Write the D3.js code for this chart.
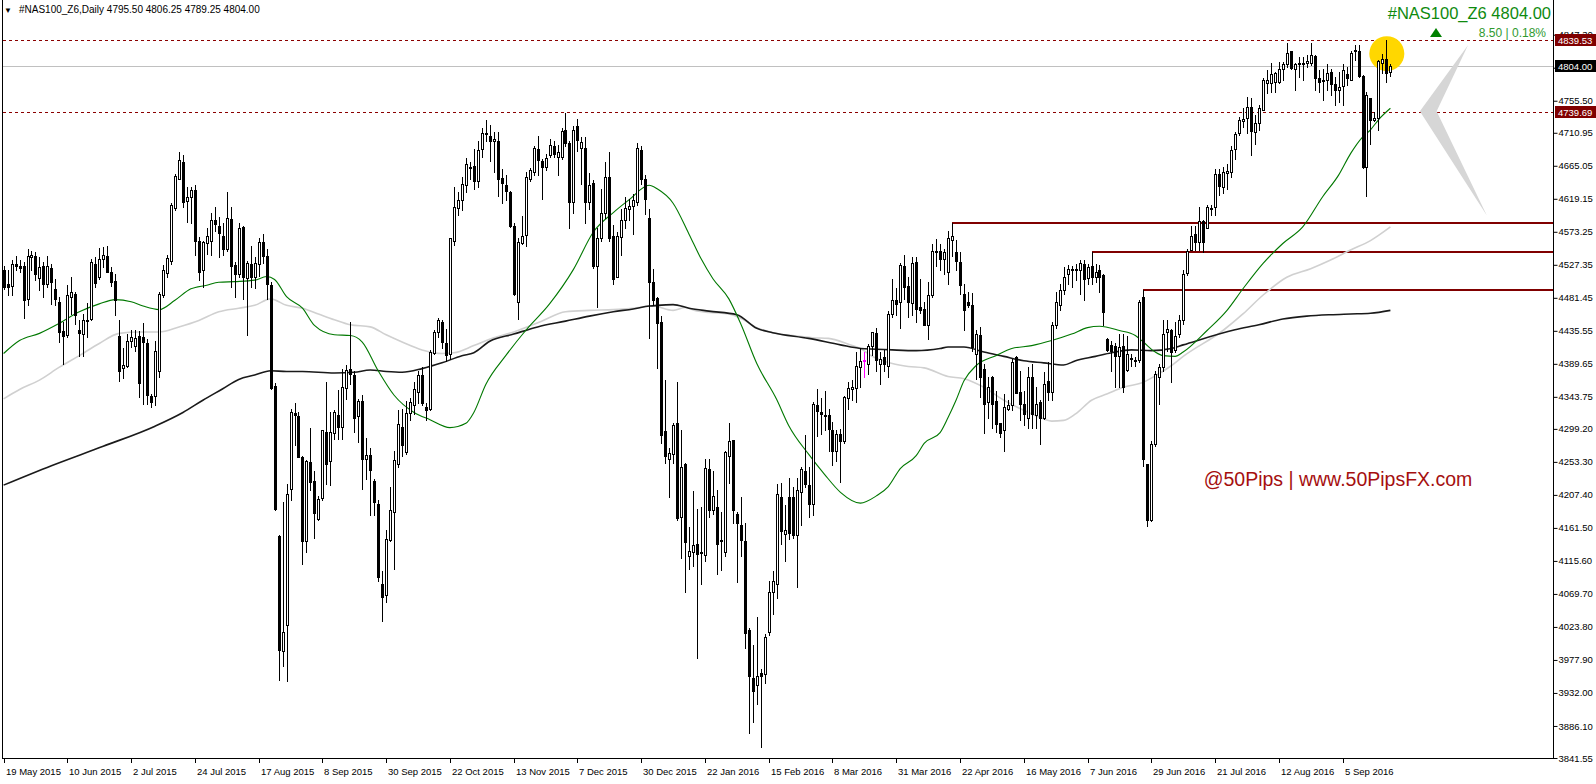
<!DOCTYPE html>
<html>
<head>
<meta charset="utf-8">
<script src="https://cdn.jsdelivr.net/npm/d3@7"></script>
<style>
body { margin: 0; background: #fff; }
svg text { font-family: "Liberation Sans", Arial, sans-serif; }
</style>
</head>
<body>
<div id="chart"></div>
<script>
// daily candles, bar 0 = 19 May 2015
var opens = [
 4520,4500,4498,4529,4526,4525,4480,4538,4540,4509, 4525,4500,4523,4494,4476,4435,4430,4482,4487,4436,
 4431,4451,4452,4529,4510,4535,4540,4517,4505,4428, 4384,4386,4421,4414,4428,4427,4419,4345,4345,4379,
 4485,4516,4533,4606,4647,4670,4616,4621,4632,4560, 4520,4557,4561,4589,4582,4568,4550,4591,4527,4515,
 4580,4509,4528,4511,4529,4559,4539,4499,4359,4150, 3990,4026,4215,4321,4317,4260,4143,4253,4227,4174,
 4203,4295,4254,4293,4319,4302,4356,4382,4374,4317, 4338,4258,4263,4227,4195,4084,4068,4145,4183,4251,
 4302,4267,4321,4333,4351,4374,4329,4327,4405,4434, 4448,4418,4404,4560,4607,4618,4639,4664,4665,4644,
 4688,4711,4707,4700,4699,4648,4639,4629,4581,4476, 4558,4569,4646,4656,4688,4672,4664,4680,4693,4677,
 4677,4715,4697,4615,4720,4690,4690,4614,4641,4526, 4564,4600,4649,4568,4511,4566,4589,4605,4609,4615,
 4687,4647,4592,4504,4481,4448,4296,4258,4264,4307, 4177,4250,4122,4128,4139,4128,4124,4244,4186,4191,
 4145,4128,4262,4284,4181,4165,4143,4019,3953,3943, 3960,3959,4017,4072,4084,4205,4153,4204,4204,4152,
 4211,4240,4221,4195,4332,4323,4319,4318,4297,4269, 4292,4282,4342,4354,4356,4385,4394,4390,4414,4432,
 4390,4399,4387,4459,4478,4476,4525,4498,4474,4531, 4468,4466,4444,4485,4546,4546,4535,4517,4562,4545,
 4531,4487,4476,4471,4404,4430,4383,4336,4371,4338, 4307,4297,4327,4332,4399,4350,4334,4315,4371,4318,
 4336,4315,4366,4350,4443,4471,4492,4514,4521,4520, 4520,4529,4509,4525,4510,4520,4513,4424,4416,4415,
 4400,4414,4381,4396,4395,4395,4482,4250,4172,4278, 4371,4385,4434,4436,4409,4431,4450,4516,4548,4570,
 4559,4588,4579,4606,4608,4654,4636,4655,4657,4689, 4710,4728,4731,4747,4712,4724,4743,4780,4780,4781,
 4781,4799,4806,4824,4800,4808,4808,4808,4808,4818, 4787,4783,4784,4796,4779,4771,4776,4793,4785,4826,
 4825,4790,4663,4759,4729,4732,4808,4814,4795.5
];
var highs = [
 4525,4520,4534,4539,4534,4531,4550,4547,4545,4538, 4531,4539,4529,4507,4482,4448,4499,4510,4490,4450,
 4459,4474,4536,4538,4551,4552,4553,4524,4515,4450, 4411,4431,4436,4436,4435,4446,4424,4348,4422,4489,
 4527,4541,4613,4654,4684,4680,4636,4636,4638,4566, 4561,4578,4599,4608,4594,4585,4629,4608,4531,4585,
 4582,4533,4554,4538,4565,4570,4549,4504,4363,4151, 4198,4223,4327,4335,4322,4261,4256,4300,4240,4206,
 4298,4365,4322,4325,4353,4383,4388,4448,4380,4341, 4346,4287,4272,4230,4201,4102,4158,4219,4268,4325,
 4327,4338,4342,4365,4380,4385,4335,4409,4436,4454, 4451,4438,4565,4636,4628,4649,4676,4670,4689,4700,
 4717,4729,4722,4712,4712,4660,4652,4630,4585,4565, 4595,4656,4662,4692,4706,4675,4681,4702,4700,4694,
 4717,4739,4700,4720,4730,4705,4705,4655,4645,4578, 4633,4670,4684,4583,4573,4605,4622,4619,4626,4697,
 4692,4652,4605,4522,4483,4456,4367,4272,4308,4364, 4298,4252,4163,4213,4188,4190,4257,4257,4241,4214,
 4184,4269,4307,4284,4184,4204,4169,4023,3999,4037, 3965,4014,4088,4101,4223,4224,4194,4231,4219,4231,
 4246,4290,4246,4337,4355,4342,4352,4327,4309,4297, 4299,4345,4365,4367,4406,4411,4406,4417,4434,4439,
 4406,4409,4463,4508,4495,4530,4541,4510,4538,4538, 4508,4475,4503,4556,4563,4556,4550,4575,4585,4562,
 4545,4501,4489,4488,4436,4441,4390,4371,4373,4352, 4308,4348,4339,4397,4401,4380,4352,4385,4390,4357,
 4339,4378,4392,4448,4489,4501,4524,4527,4525,4529, 4534,4534,4529,4545,4529,4527,4515,4426,4422,4418,
 4431,4431,4429,4404,4399,4478,4493,4250,4283,4380, 4390,4450,4450,4438,4448,4457,4520,4550,4581,4582,
 4608,4589,4610,4610,4661,4661,4664,4668,4692,4712, 4733,4745,4761,4759,4736,4749,4787,4798,4808,4796,
 4810,4810,4836,4825,4808,4816,4817,4819,4836,4819, 4798,4799,4807,4799,4789,4796,4807,4803,4825,4833,
 4833,4791,4768,4759,4740,4812,4820,4839.53,4806.25
];
var lows = [
 4494,4485,4485,4520,4517,4454,4472,4520,4506,4492, 4482,4496,4473,4471,4420,4389,4427,4459,4445,4401,
 4400,4427,4450,4496,4508,4524,4517,4498,4458,4366, 4370,4385,4413,4408,4343,4334,4334,4329,4332,4372,
 4482,4510,4529,4603,4646,4608,4587,4585,4541,4506, 4496,4543,4541,4575,4538,4541,4547,4497,4482,4510,
 4480,4430,4496,4495,4512,4530,4480,4355,4186,3950, 3970,3949,4201,4277,4260,4111,4128,4214,4148,4172,
 4201,4222,4221,4285,4285,4285,4341,4362,4295,4281, 4215,4230,4180,4180,4087,4032,4058,4143,4105,4246,
 4261,4264,4312,4320,4335,4333,4311,4325,4404,4427, 4412,4393,4397,4555,4596,4603,4628,4646,4633,4635,
 4677,4700,4672,4657,4623,4613,4618,4580,4485,4452, 4556,4554,4644,4652,4652,4619,4659,4677,4677,4652,
 4675,4692,4578,4600,4685,4640,4585,4605,4523,4468, 4561,4593,4560,4501,4511,4541,4578,4589,4570,4610,
 4640,4598,4426,4471,4384,4280,4252,4205,4252,4173, 4120,4072,4105,4108,3981,4083,4115,4176,4181,4098,
 4103,4123,4224,4169,4086,4123,3995,3877,3891,3916, 3857,3946,4013,4042,4064,4139,4116,4146,4148,4079,
 4166,4218,4176,4180,4289,4292,4297,4269,4249,4254, 4226,4279,4327,4339,4337,4357,4372,4375,4402,4380,
 4362,4380,4371,4455,4458,4439,4480,4455,4458,4448, 4460,4443,4424,4483,4525,4520,4515,4501,4540,4520,
 4487,4436,4469,4408,4369,4343,4294,4315,4301,4295, 4288,4269,4325,4325,4349,4311,4304,4301,4301,4301,
 4278,4313,4339,4339,4440,4464,4487,4501,4496,4506, 4487,4479,4501,4501,4503,4489,4443,4408,4380,4357,
 4357,4350,4380,4387,4387,4392,4248,4164,4171,4276, 4334,4380,4408,4364,4406,4427,4445,4513,4548,4548,
 4548,4545,4578,4596,4596,4624,4627,4633,4650,4675, 4708,4719,4710,4680,4696,4715,4742,4766,4768,4768,
 4780,4784,4803,4799,4770,4789,4784,4802,4805,4770, 4768,4756,4771,4763,4749,4754,4749,4777,4784,4812,
 4789,4662,4623,4696,4728,4715,4794,4782,4789.25
];
var closes = [
 4497,4497,4528,4525,4523,4479,4539,4541,4515,4524, 4501,4526,4503,4480,4434,4429,4486,4490,4457,4432,
 4450,4449,4531,4502,4536,4541,4518,4504,4479,4379, 4388,4422,4427,4426,4363,4420,4347,4336,4407,4487,
 4520,4537,4610,4651,4673,4615,4622,4632,4560,4518, 4559,4568,4590,4584,4571,4550,4593,4526,4514,4578,
 4511,4530,4511,4530,4559,4540,4500,4356,4188,3992, 4017,4208,4323,4318,4260,4143,4255,4225,4182,4202,
 4297,4251,4295,4323,4302,4358,4381,4375,4314,4338, 4258,4263,4242,4198,4093,4065,4146,4186,4256,4306,
 4277,4321,4337,4354,4374,4335,4326,4406,4434,4450, 4420,4402,4564,4608,4617,4640,4667,4663,4644,4687,
 4711,4710,4699,4702,4646,4641,4630,4581,4487,4559, 4568,4650,4659,4690,4673,4664,4676,4694,4682,4684,
 4714,4697,4615,4715,4701,4698,4614,4639,4526,4564, 4600,4649,4564,4508,4568,4589,4606,4609,4618,4690,
 4646,4619,4503,4478,4446,4291,4261,4266,4304,4175, 4246,4142,4130,4138,4125,4127,4245,4186,4206,4139,
 4144,4267,4282,4186,4169,4144,4015,3956,3935,3956, 3955,4010,4073,4087,4208,4157,4158,4155,4151,4214,
 4243,4223,4195,4334,4324,4320,4317,4299,4269,4292, 4282,4344,4356,4358,4386,4394,4395,4414,4434,4395,
 4397,4390,4459,4479,4473,4527,4496,4475,4530,4466, 4465,4444,4486,4547,4546,4535,4545,4565,4568,4533,
 4499,4464,4472,4413,4431,4371,4334,4357,4334,4306, 4293,4330,4333,4392,4349,4334,4320,4371,4320,4334,
 4315,4361,4350,4444,4475,4492,4510,4521,4521,4522, 4530,4508,4524,4510,4517,4511,4462,4409,4408,4400,
 4413,4358,4404,4398,4394,4476,4258,4172,4278,4376, 4385,4431,4438,4406,4429,4450,4515,4547,4568,4559,
 4588,4559,4608,4606,4654,4637,4657,4658,4687,4709, 4729,4730,4747,4714,4725,4745,4784,4785,4793,4794,
 4800,4806,4822,4801,4806,4807,4807,4811,4819,4787, 4782,4784,4794,4779,4771,4775,4798,4787,4822,4824,
 4790,4663,4763,4729,4732,4811,4814,4794,4804
];
var highlightBars = [216];

// moving averages: [bar, value]
var maGreen = [[0,4404],[4,4422],[9,4432],[14,4446],[19,4462],[24,4473],[28,4479],[32,4476],[35,4470],[39,4465],
 [43,4478],[47,4494],[51,4499],[54,4503],[58,4504],[63,4506],[66,4511],[68,4507],[71,4483],[75,4467],[78,4443],
 [83,4430],[87,4429],[90,4420],[94,4380],[98,4346],[103,4322],[107,4312],[112,4301],[116,4307],[118,4322],
 [121,4361],[126,4401],[131,4436],[137,4473],[143,4521],[148,4573],[153,4600],[157,4618],[162,4638],[164,4633],
 [168,4613],[172,4570],[175,4536],[178,4508],[182,4480],[185,4445],[189,4390],[194,4340],[197,4304],[202,4264],
 [206,4236],[210,4211],[215,4196],[219,4206],[222,4219],[225,4244],[229,4262],[231,4279],[235,4294],[237,4315],
 [239,4339],[241,4366],[244,4387],[249,4401],[253,4411],[258,4415],[263,4422],[268,4431],[272,4440],[275,4442],
 [280,4436],[284,4429],[286,4420],[289,4406],[291,4401],[294,4400],[296,4406],[302,4436],[307,4464],[311,4494],
 [316,4529],[321,4557],[326,4580],[331,4622],[335,4652],[338,4682],[341,4705],[343,4715],[345,4729],[348,4745]];
var maGrey = [[0,4341],[4,4354],[9,4367],[14,4385],[19,4401],[24,4418],[29,4432],[34,4434],[39,4434],[44,4441],
 [49,4450],[54,4462],[59,4467],[63,4471],[67,4480],[71,4471],[75,4467],[79,4459],[83,4451],[87,4444],[92,4441],
 [96,4430],[100,4420],[105,4409],[110,4404],[113,4405],[118,4415],[123,4426],[128,4434],[135,4449],[141,4462],
 [147,4464],[153,4465],[158,4467],[163,4470],[168,4464],[171,4468],[174,4463],[177,4461],[182,4459],[185,4453],
 [189,4440],[193,4433],[198,4429],[203,4426],[207,4425],[212,4417],[215,4411],[218,4400],[223,4390],[227,4386],
 [231,4384],[237,4372],[241,4369],[246,4357],[251,4339],[256,4325],[261,4313],[263,4310],[266,4311],[269,4320],
 [273,4339],[277,4348],[281,4357],[286,4364],[289,4373],[293,4387],[296,4400],[306,4436],[311,4459],[316,4485],
 [322,4510],[328,4522],[333,4534],[338,4548],[343,4561],[348,4580]];
var maDark = [[0,4221],[12,4248],[25,4275],[38,4303],[45,4322],[50,4339],[55,4355],[59,4368],[63,4374],[67,4380],
 [71,4379],[75,4379],[83,4377],[88,4378],[92,4381],[96,4379],[100,4378],[105,4383],[110,4391],[115,4401],
 [118,4405],[122,4421],[128,4431],[134,4441],[141,4449],[147,4456],[153,4462],[158,4466],[162,4470],[164,4471],
 [168,4472],[172,4467],[177,4463],[184,4458],[189,4439],[193,4433],[202,4425],[210,4416],[215,4411],[219,4410],
 [223,4409],[229,4408],[235,4411],[237,4413],[241,4413],[246,4406],[251,4400],[256,4394],[261,4391],[266,4388],
 [269,4394],[274,4400],[278,4405],[283,4409],[288,4408],[293,4411],[296,4416],[309,4437],[315,4444],[321,4452],
 [327,4456],[333,4458],[338,4459],[343,4460],[348,4464]];

// drawn levels
var levelBars = [238, 273, 286];
var levelPrices = [4585, 4545, 4493];
var dashedPrices = [4839.53, 4739.69];
var lastPrice = 4804.00;

// axis labels
var priceTicks = ["3841.55","3886.10","3932.00","3977.90","4023.80","4069.70","4115.60","4161.50","4207.40",
 "4253.30","4299.20","4343.75","4389.65","4435.55","4481.45","4527.35","4573.25","4619.15","4665.05",
 "4710.95","4755.50","4801.40","4847.30"];
var dateLabels = ["19 May 2015","10 Jun 2015","2 Jul 2015","24 Jul 2015","17 Aug 2015","8 Sep 2015",
 "30 Sep 2015","22 Oct 2015","13 Nov 2015","7 Dec 2015","30 Dec 2015","22 Jan 2016","15 Feb 2016",
 "8 Mar 2016","31 Mar 2016","22 Apr 2016","16 May 2016","7 Jun 2016","29 Jun 2016","21 Jul 2016",
 "12 Aug 2016","5 Sep 2016"];
var dateStep = 16;

// annotations in bar / price units
var circleAt = [347.1, 4821];
var chevron = [[367.5, 4833], [355.4, 4741], [372.2, 4596], [359.6, 4741]];

var width = 1596, height = 784;
var plotLeft = 2, plotRight = 1553, plotBottom = 758;

var svg = d3.select("#chart").append("svg")
    .attr("width", width)
    .attr("height", height);

var x = d3.scaleLinear().domain([0, 348]).range([3.6, 1390.4]);
var y = d3.scaleLinear().domain([3841.55, 4839.53]).range([plotBottom, 40.3]);

var bars = d3.range(closes.length);
var px = function(i) { return Math.round(x(i)); };
var py = function(v) { return Math.round(y(v)); };

// frame
svg.append("line").attr("x1", plotLeft + 0.5).attr("x2", plotLeft + 0.5)
    .attr("y1", 0).attr("y2", plotBottom).attr("stroke", "#000");
svg.append("line").attr("x1", plotRight + 0.5).attr("x2", plotRight + 0.5)
    .attr("y1", 0).attr("y2", plotBottom + 1).attr("stroke", "#000");
svg.append("line").attr("x1", plotLeft).attr("x2", plotRight + 1)
    .attr("y1", plotBottom + 0.5).attr("y2", plotBottom + 0.5).attr("stroke", "#000");

// header
svg.append("text").attr("x", 4).attr("y", 13).attr("font-size", 8).text("\u25BC");
svg.append("text").attr("x", 19).attr("y", 13).attr("font-size", 10)
    .text("#NAS100_Z6,Daily  4795.50 4806.25 4789.25 4804.00");

// bid line + dashed levels
svg.append("line")
    .attr("x1", plotLeft + 1).attr("x2", plotRight)
    .attr("y1", py(lastPrice) + 0.5).attr("y2", py(lastPrice) + 0.5)
    .attr("stroke", "#c0c0c0");

svg.selectAll(".dash")
    .data(dashedPrices)
    .enter().append("line")
    .attr("class", "dash")
    .attr("x1", plotLeft + 1).attr("x2", plotRight)
    .attr("y1", d => py(d) + 0.5).attr("y2", d => py(d) + 0.5)
    .attr("stroke", "#8b0000")
    .attr("stroke-dasharray", "3,3");

// support / resistance lines
svg.selectAll(".level")
    .data(levelBars)
    .enter().append("line")
    .attr("class", "level")
    .attr("x1", d => px(d)).attr("x2", plotRight)
    .attr("y1", (d, i) => py(levelPrices[i])).attr("y2", (d, i) => py(levelPrices[i]))
    .attr("stroke", "#800000")
    .attr("stroke-width", 2);

// yellow marker behind the last candles
svg.append("circle")
    .attr("cx", x(circleAt[0])).attr("cy", y(circleAt[1]))
    .attr("r", 17.5)
    .attr("fill", "#ffd700");

// grey zigzag projection
svg.append("polygon")
    .attr("points", chevron.map(d => x(d[0]) + "," + y(d[1])).join(" "))
    .attr("fill", "#d6d6d6");

// moving averages
var line = d3.line()
    .x(d => x(d[0]))
    .y(d => y(d[1]))
    .curve(d3.curveMonotoneX);

svg.append("path").datum(maGrey).attr("d", line)
    .attr("fill", "none").attr("stroke", "#d0d0d0").attr("stroke-width", 1.6);
svg.append("path").datum(maDark).attr("d", line)
    .attr("fill", "none").attr("stroke", "#1a1a1a").attr("stroke-width", 1.6);
svg.append("path").datum(maGreen).attr("d", line)
    .attr("fill", "none").attr("stroke", "#007800").attr("stroke-width", 1.1);

// candles
var candle = svg.append("g").attr("shape-rendering", "crispEdges");

candle.selectAll(".wick")
    .data(bars)
    .enter().append("line")
    .attr("class", "wick")
    .attr("x1", i => px(i) + 0.5).attr("x2", i => px(i) + 0.5)
    .attr("y1", i => py(highs[i])).attr("y2", i => py(lows[i]) + 1)
    .attr("stroke", i => highlightBars.indexOf(i) >= 0 ? "#ff00ff" : "#000");

candle.selectAll(".body")
    .data(bars)
    .enter().append("rect")
    .attr("class", "body")
    .attr("x", i => px(i) - 0.5)
    .attr("width", 2)
    .attr("y", i => py(Math.max(opens[i], closes[i])) + 0.5)
    .attr("height", i => Math.max(py(Math.min(opens[i], closes[i])) - py(Math.max(opens[i], closes[i])), 1))
    .attr("fill", i => highlightBars.indexOf(i) >= 0 ? "#ff00ff" : (closes[i] >= opens[i] ? "#fff" : "#000"))
    .attr("stroke", i => highlightBars.indexOf(i) >= 0 ? "#ff00ff" : "#000");

// right price axis
var yAxis = d3.axisRight(y)
    .tickValues(priceTicks.map(Number))
    .tickFormat((d, i) => priceTicks[i])
    .tickSize(4)
    .tickSizeOuter(0);

var gy = svg.append("g")
    .attr("transform", "translate(" + (plotRight + 0.5) + ",0)")
    .call(yAxis);
gy.select(".domain").remove();
gy.selectAll("text").attr("font-size", 9.5).attr("fill", "#000")
    .attr("font-family", "'Liberation Sans', Arial, sans-serif").attr("x", 5);

// price boxes
var boxes = [
    {v: dashedPrices[0], fill: "#800000"},
    {v: lastPrice, fill: "#000"},
    {v: dashedPrices[1], fill: "#800000"}
];
var box = svg.selectAll(".pbox")
    .data(boxes)
    .enter().append("g")
    .attr("class", "pbox")
    .attr("transform", d => "translate(" + (plotRight + 1) + "," + py(d.v) + ")");
box.append("rect").attr("x", 1).attr("y", -6).attr("width", 42).attr("height", 12).attr("fill", d => d.fill);
box.append("text").attr("x", 4).attr("y", 3.5).attr("font-size", 9.5).attr("fill", "#fff")
    .text(d => d.v.toFixed(2));

// date axis
var gx = svg.append("g");
gx.selectAll(".dtick")
    .data(dateLabels)
    .enter().append("line")
    .attr("x1", (d, i) => px(i * dateStep) + 0.5).attr("x2", (d, i) => px(i * dateStep) + 0.5)
    .attr("y1", plotBottom).attr("y2", plotBottom + 5)
    .attr("stroke", "#000");
gx.selectAll(".dlabel")
    .data(dateLabels)
    .enter().append("text")
    .attr("x", (d, i) => px(i * dateStep) + 2)
    .attr("y", plotBottom + 17)
    .attr("font-size", 9.5)
    .text(d => d);

// quote box top right
svg.append("text").attr("x", 1551).attr("y", 18.5).attr("text-anchor", "end")
    .attr("font-size", 16.5).attr("fill", "#0e8a0e")
    .text("#NAS100_Z6  4804.00");
svg.append("text").attr("x", 1546).attr("y", 36.5).attr("text-anchor", "end")
    .attr("font-size", 12).attr("fill", "#2f9a2f")
    .text("8.50 | 0.18%");
svg.append("path").attr("d", "M1436,28 L1442,37 L1430,37 Z").attr("fill", "#008000");

// watermark
svg.append("text").attr("x", 1338).attr("y", 485.5).attr("text-anchor", "middle")
    .attr("font-size", 19.5).attr("fill", "#a50f0f")
    .text("@50Pips | www.50PipsFX.com");
</script>
</body>
</html>
